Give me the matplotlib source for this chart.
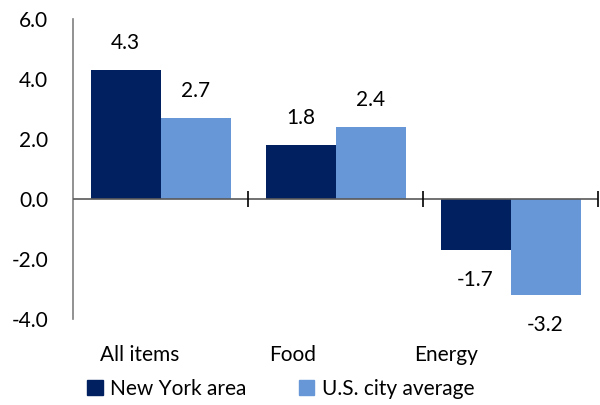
import matplotlib.pyplot as plt
from matplotlib.patches import Patch
import numpy as np

categories = ["All items", "Food", "Energy"]
new_york = [4.3, 1.8, -1.7]
us_average = [2.7, 2.4, -3.2]
series_names = ["New York area", "U.S. city average"]
yticks = [-4.0, -2.0, 0.0, 2.0, 4.0, 6.0]

navy = "#002060"
light_blue = "#6897D8"

plt.rcParams['font.family'] = ['Lato', 'DejaVu Sans']
plt.rcParams['font.size'] = 15

fig = plt.figure(figsize=(6, 4.05), dpi=100)
ax = fig.add_axes([0.1217, 0.2123, 0.875, 0.7408])

x = np.arange(len(categories))
w = 0.4
b1 = ax.bar(x - w / 2, new_york, w, color=navy, zorder=2)
b2 = ax.bar(x + w / 2, us_average, w, color=light_blue, zorder=2)

for bars, vals in ((b1, new_york), (b2, us_average)):
    for rect, v in zip(bars, vals):
        cx = rect.get_x() + rect.get_width() / 2
        off = 0.9 if v >= 0 else -1.0
        ax.text(cx, v + off, f"{v:.1f}", ha="center", va="center", color="black")

ax.set_xlim(-0.5, 2.5)
ax.set_ylim(-4, 6)
ax.set_yticks(yticks)
ax.set_yticklabels([f"{t:.1f}" for t in yticks])
ax.tick_params(axis="y", length=0, pad=18)

# category labels sit a bit left of the category centres
ax.set_xticks(x - 0.12 - 0.125 * x)
ax.set_xticklabels(categories)
ax.tick_params(axis="x", length=0, pad=19)

for s in ("top", "right", "bottom"):
    ax.spines[s].set_visible(False)
ax.spines["left"].set_color("#7f7f7f")
ax.spines["left"].set_linewidth(1.2)

ax.axhline(0, color="#595959", lw=1.2, zorder=3)
ax.plot(x + 0.5, np.zeros(len(x)), ls="none", marker="|", ms=12, mew=1.2,
        color="black", clip_on=False, zorder=4)

handles = [Patch(color=navy), Patch(color=light_blue)]
fig.legend(handles, series_names, loc="center", bbox_to_anchor=(0.468, 0.040),
           ncol=2, frameon=False, handlelength=0.75, handleheight=0.75,
           handletextpad=0.35, columnspacing=2.5)

fig.savefig("out.png", dpi=100)
